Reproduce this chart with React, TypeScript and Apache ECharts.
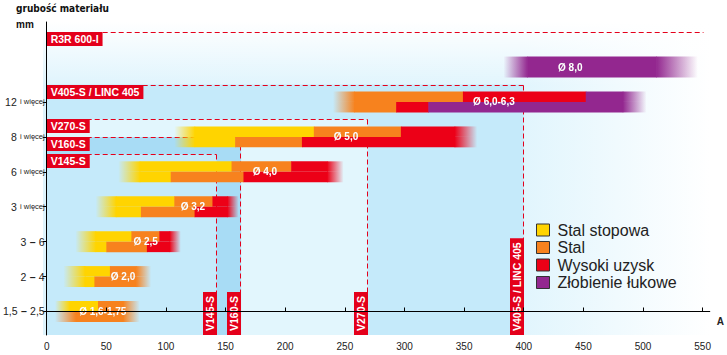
import React, { useEffect, useRef } from 'react';
import * as echarts from 'echarts';

// ---------- data ----------
const thicknessLabels = ['1,5 – 2,5', '2 – 4', '3 – 6', '3 i więcej', '6 i więcej', '8 i więcej', '12 i więcej'];
const thicknessTicks = [0, 1, 2, 3, 4, 5, 6];
const currentTicks = [0, 50, 100, 150, 200, 250, 300, 350, 400, 450, 500, 550];

const machineNames = ['R3R 600-I', 'V405-S / LINC 405', 'V270-S', 'V160-S', 'V145-S'];
const machineMaxCurrent = [551, 400, 269, 163, 142.5];
const machineLevel = [8.0, 6.5, 5.5, 5.0, 4.5];

// segments: [row, half (0 top, 1 bottom, 2 full), fromA, toA, fade (0 none, 1 in, 2 out)]
const stalStopowa = [
  [0, 0, 7, 19, 1], [0, 0, 19, 43, 0],
  [1, 0, 14, 32, 1], [1, 0, 32, 53, 0], [1, 1, 14, 32, 1], [1, 1, 32, 40, 0],
  [2, 0, 24, 41, 1], [2, 0, 41, 71, 0], [2, 1, 24, 41, 1], [2, 1, 41, 50, 0],
  [3, 0, 41, 58, 1], [3, 0, 58, 107, 0], [3, 1, 41, 58, 1], [3, 1, 58, 79, 0],
  [4, 0, 60, 78, 1], [4, 0, 78, 155, 0], [4, 1, 60, 78, 1], [4, 1, 78, 104, 0],
  [5, 0, 107, 124, 1], [5, 0, 124, 224, 0], [5, 1, 107, 124, 1], [5, 1, 124, 158, 0],
];
const stal = [
  [0, 0, 43, 64, 0], [0, 0, 64, 78, 2], [0, 1, 7, 24, 1], [0, 1, 24, 64, 0], [0, 1, 64, 78, 2],
  [1, 0, 53, 75, 0], [1, 0, 75, 87.5, 2], [1, 1, 40, 75, 0], [1, 1, 75, 87.5, 2],
  [2, 0, 71, 94.5, 0], [2, 1, 50, 84, 0],
  [3, 0, 107, 139, 0], [3, 1, 79, 124, 0],
  [4, 0, 155, 205, 0], [4, 1, 104, 165, 0],
  [5, 0, 224, 297, 0], [5, 1, 158, 214, 0],
  [6, 0, 240, 258, 1], [6, 0, 258, 349, 0], [6, 1, 240, 258, 1], [6, 1, 258, 293, 0],
];
const wysokiUzysk = [
  [2, 0, 94.5, 103, 0], [2, 0, 103, 112.5, 2], [2, 1, 84, 103, 0], [2, 1, 103, 112.5, 2],
  [3, 0, 139, 151.5, 0], [3, 0, 151.5, 161, 2], [3, 1, 124, 151.5, 0], [3, 1, 151.5, 161, 2],
  [4, 0, 205, 235, 0], [4, 0, 235, 249, 2], [4, 1, 165, 235, 0], [4, 1, 235, 249, 2],
  [5, 0, 297, 342, 0], [5, 0, 342, 361, 2], [5, 1, 214, 342, 0], [5, 1, 342, 361, 2],
  [6, 0, 349, 452, 0], [6, 1, 293, 320, 0],
];
const zlobienieLukowe = [
  [6, 0, 452, 483, 0], [6, 0, 483, 503, 2], [6, 1, 320, 483, 0], [6, 1, 483, 503, 2],
  [7, 2, 383, 403, 1], [7, 2, 403, 511, 0], [7, 2, 511, 546, 2],
];

const diameterLabels = ['Ø 1,6-1,75', 'Ø 2,0', 'Ø 2,5', 'Ø 3,2', 'Ø 4,0', 'Ø 5,0', 'Ø 6,0-6,3', 'Ø 8,0'];
const diameterLabelCurrent = [47, 64, 83, 122.6, 183, 251, 375, 439];
const diameterLabelRow = [0, 1, 2, 3, 4, 5, 6, 7];

// ---------- style ----------
const FONT = '"Liberation Sans", Arial, Helvetica, sans-serif';
const NARROW = '"Liberation Sans Narrow", "Arial Narrow", "DejaVu Sans Condensed", "Liberation Sans", sans-serif';
const RED_LINE = '#e4001b';
const COLORS = { yellow: '#ffd400', orange: '#f7821e', red: '#ec0017', purple: '#93278f' };
const REGION_FILLS = [null, '#c5eafa', '#e2f6fd', '#a8dcf5', '#c5eafa'];
const BAR_H = 0.6;

function transparent(hex: string) {
  const n = parseInt(hex.slice(1), 16);
  return `rgba(${(n >> 16) & 255},${(n >> 8) & 255},${n & 255},0)`;
}

function barRenderer(color: string) {
  return (params: any, api: any) => {
    const row = api.value(0);
    const half = api.value(1);
    const a0 = api.value(2);
    const a1 = api.value(3);
    const fade = api.value(4);
    const c0 = api.coord([a0, row]);
    const c1 = api.coord([a1, row]);
    const h = api.size([0, BAR_H])[1];
    let y = c0[1] - h / 2;
    let hh = h;
    if (half === 0) hh = h / 2;
    else if (half === 1) { y = c0[1]; hh = h / 2; }
    let fill: any = color;
    if (fade === 1) {
      fill = new echarts.graphic.LinearGradient(0, 0, 1, 0, [
        { offset: 0, color: transparent(color) },
        { offset: 1, color },
      ]);
    } else if (fade === 2) {
      fill = new echarts.graphic.LinearGradient(0, 0, 1, 0, [
        { offset: 0, color },
        { offset: 1, color: transparent(color) },
      ]);
    }
    return {
      type: 'rect',
      shape: { x: c0[0], y, width: c1[0] - c0[0] + (fade === 2 ? 0 : 0.6), height: hh },
      style: { fill },
    };
  };
}

function barSeries(name: string, color: string, data: number[][]) {
  return {
    name,
    type: 'custom',
    z: 3,
    clip: false,
    itemStyle: { color },
    encode: { x: [2, 3], y: 0 },
    data,
    renderItem: barRenderer(color),
  };
}

export default function App() {
  const ref = useRef<HTMLDivElement>(null);

  useEffect(() => {
    if (!ref.current) return;
    const chart = echarts.init(ref.current, undefined, { renderer: 'svg' });
    const machineData = machineMaxCurrent.map((a, i) => [a, machineLevel[i]]);

    const option: any = {
      animation: false,
      grid: { left: 43, right: 17, top: 22, bottom: 20 },
      xAxis: {
        type: 'value',
        min: 0,
        max: 556,
        z: 5,
        name: 'A',
        nameLocation: 'end',
        nameGap: 7,
        nameTextStyle: { fontFamily: FONT, fontSize: 10, fontWeight: 'bold', color: '#222', verticalAlign: 'top', padding: [5, 0, 0, 0] },
        axisLine: { lineStyle: { color: '#000', width: 1 } },
        axisTick: { inside: true, length: 4, lineStyle: { color: '#000' }, customValues: currentTicks },
        axisLabel: { customValues: currentTicks, fontFamily: FONT, fontSize: 10, color: '#222', margin: 6 },
        splitLine: { show: false },
      },
      yAxis: {
        type: 'value',
        min: -0.673,
        max: 8.29,
        z: 5,
        axisLine: { show: true, lineStyle: { color: '#000', width: 1 } },
        axisTick: { show: true, length: 4, lineStyle: { color: '#000' }, customValues: thicknessTicks },
        axisLabel: {
          customValues: thicknessTicks,
          margin: 2,
          formatter: (v: number) => {
            const s = thicknessLabels[Math.round(v)];
            if (!s) return '';
            if (s.endsWith(' i więcej')) return `{a|${s.replace(' i więcej', '')}} {b|i więcej}`;
            const parts = s.split(' – ');
            return `{a|${parts[0]}} {d|–} {a|${parts[1]}}`;
          },
          rich: {
            a: { fontFamily: FONT, fontSize: 10.5, color: '#222' },
            b: { fontFamily: FONT, fontSize: 7.5, color: '#222' },
            d: { fontFamily: FONT, fontSize: 10.5, fontWeight: 'bold', color: '#222' },
          },
        },
        splitLine: { show: false },
      },
      legend: {
        orient: 'vertical',
        left: 536,
        top: 222,
        padding: 0,
        icon: 'rect',
        itemWidth: 13,
        itemHeight: 12,
        itemGap: 1.5,
        selectedMode: false,
        itemStyle: { borderColor: '#333', borderWidth: 1 },
        textStyle: { fontFamily: FONT, fontSize: 16, lineHeight: 16, color: '#222', padding: [0, 0, 0, 3] },
        data: ['Stal stopowa', 'Stal', 'Wysoki uzysk', 'Złobienie łukowe'],
      },
      graphic: [
        {
          type: 'rect',
          z: 0,
          shape: { x: 43, y: 22, width: 667, height: 313 },
          style: {
            fill: new echarts.graphic.LinearGradient(0, 0, 1, 0, [
              { offset: 0, color: '#dff4fd' },
              { offset: 0.72, color: '#e1f5fd' },
              { offset: 1, color: '#ffffff' },
            ]),
          },
        },
        {
          type: 'rect',
          z: 0,
          shape: { x: 43, y: 22, width: 667, height: 64 },
          style: {
            fill: new echarts.graphic.LinearGradient(0, 0, 0, 1, [
              { offset: 0, color: 'rgba(255,255,255,1)' },
              { offset: 1, color: 'rgba(255,255,255,0)' },
            ]),
          },
        },
        {
          type: 'text',
          z: 6,
          x: 16,
          y: 8.5,
          style: { text: 'grubość materiału', font: `bold 10px ${NARROW}`, fill: '#111', verticalAlign: 'middle' },
        },
        {
          type: 'text',
          z: 6,
          x: 16,
          y: 24,
          style: { text: 'mm', font: `bold 10px ${FONT}`, fill: '#111', verticalAlign: 'middle' },
        },
      ],
      series: [
        {
          type: 'custom',
          name: 'regions',
          z: 1,
          clip: false,
          silent: true,
          data: machineData,
          renderItem: (params: any, api: any) => {
            const i = params.dataIndex;
            const fill = REGION_FILLS[i];
            if (!fill) return { type: 'group', children: [] };
            const p = api.coord([api.value(0), api.value(1)]);
            const cs = params.coordSys;
            return {
              type: 'rect',
              shape: { x: cs.x, y: p[1], width: p[0] - cs.x, height: cs.y + cs.height - p[1] },
              style: { fill },
            };
          },
        },
        {
          type: 'custom',
          name: 'machineLines',
          z: 2,
          clip: false,
          silent: true,
          data: machineData,
          renderItem: (params: any, api: any) => {
            const i = params.dataIndex;
            const p = api.coord([api.value(0), api.value(1)]);
            const cs = params.coordSys;
            const left = cs.x;
            const bottom = cs.y + cs.height;
            const lx = Math.round(p[0]) - 0.5;
            const ly = Math.round(p[1]) + 0.5;
            const ls = { stroke: RED_LINE, lineWidth: 1, lineDash: [5, 3], fill: null };
            const children: any[] = [
              { type: 'line', shape: { x1: left, y1: ly, x2: lx, y2: ly }, style: ls },
            ];
            if (i > 0) {
              children.push({ type: 'line', shape: { x1: lx, y1: ly, x2: lx, y2: bottom }, style: ls });
            }
            return { type: 'group', children };
          },
        },
        {
          type: 'custom',
          name: 'machineLabels',
          z: 2.5,
          clip: false,
          silent: true,
          data: machineData,
          renderItem: (params: any, api: any) => {
            const i = params.dataIndex;
            const p = api.coord([api.value(0), api.value(1)]);
            const cs = params.coordSys;
            const left = cs.x;
            const bottom = cs.y + cs.height;
            const textStyle = {
              text: machineNames[i],
              fill: '#fff',
              fontSize: 10.5,
              fontWeight: 'bold',
              fontFamily: FONT,
              backgroundColor: RED_LINE,
              padding: [2, 4, 2, 4],
              lineHeight: 10,
            };
            const children: any[] = [
              { type: 'text', x: left, y: Math.round(p[1]), style: { ...textStyle, align: 'left', verticalAlign: 'top' } },
            ];
            if (i > 0) {
              children.push({
                type: 'text',
                x: Math.round(p[0]) - 7,
                y: bottom,
                rotation: Math.PI / 2,
                style: { ...textStyle, align: 'left', verticalAlign: 'middle' },
              });
            }
            return { type: 'group', children };
          },
        },
        barSeries('Stal stopowa', COLORS.yellow, stalStopowa),
        barSeries('Stal', COLORS.orange, stal),
        barSeries('Wysoki uzysk', COLORS.red, wysokiUzysk),
        barSeries('Złobienie łukowe', COLORS.purple, zlobienieLukowe),
        {
          type: 'custom',
          name: 'diameters',
          z: 4,
          clip: false,
          silent: true,
          data: diameterLabelCurrent.map((a, i) => [a, diameterLabelRow[i]]),
          renderItem: (params: any, api: any) => {
            const p = api.coord([api.value(0), api.value(1)]);
            return {
              type: 'text',
              x: p[0],
              y: p[1],
              style: {
                text: diameterLabels[params.dataIndex],
                fill: '#fff',
                fontSize: 10,
                fontWeight: 'bold',
                fontFamily: FONT,
                align: 'center',
                verticalAlign: 'middle',
                textShadowColor: 'rgba(0,0,0,0.35)',
                textShadowBlur: 1,
              },
            };
          },
        },
      ],
    };

    chart.setOption(option);
    return () => chart.dispose();
  }, []);

  return <div ref={ref} style={{ position: 'absolute', left: 0, top: 0, width: 727, height: 355 }} />;
}
